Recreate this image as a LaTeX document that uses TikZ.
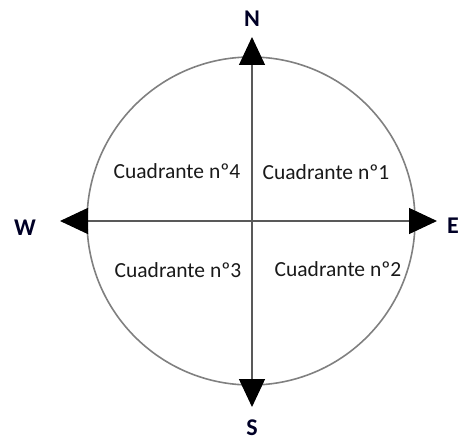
\documentclass[tikz,border=0pt]{standalone}
\usepackage{fontspec}
\setmainfont{Carlito}
\usetikzlibrary{arrows.meta}
\begin{document}
\begin{tikzpicture}[x=1pt,y=-1pt,
  axis/.style={draw=black!65,line width=1.3pt,
    {Triangle[length=28pt,width=26pt,color=black]}-{Triangle[length=28pt,width=26pt,color=black]}},
  ring/.style={draw=black!50,line width=1.6pt},
  dir/.style={font=\fontsize{24}{26}\selectfont\bfseries,text=black!85!blue},
  quad/.style={font=\fontsize{21.5}{24}\selectfont,text=black!90}]
\useasboundingbox (0,0) rectangle (462,441);
\coordinate (c) at (251,221);
\draw[ring] (c) circle[radius=164];
\coordinate (ntip) at (252,37);
\coordinate (stip) at (252,407);
\coordinate (wtip) at (60,221);
\coordinate (etip) at (437,221);
\draw[axis] (stip) -- (ntip);
\draw[axis] (wtip) -- (etip);
\node[dir] (N) at (252,19) {N};
\node[dir] (S) at (252,428) {S};
\node[dir] (W) at (25,228) {W};
\node[dir] (E) at (453,226) {E};
\node[quad] (q4) at (177,171) {Cuadrante nº4};
\node[quad] (q1) at (326,172) {Cuadrante nº1};
\node[quad] (q3) at (178,270) {Cuadrante nº3};
\node[quad] (q2) at (338,269) {Cuadrante nº2};
\end{tikzpicture}
\end{document}
